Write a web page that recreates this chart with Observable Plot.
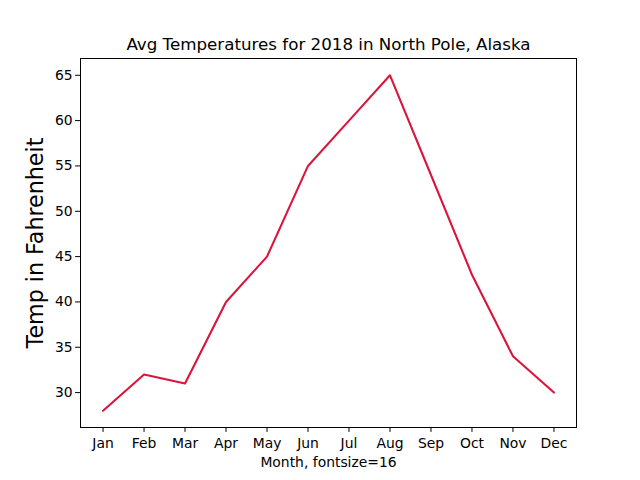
<!DOCTYPE html>
<html>
<head>
<meta charset="utf-8">
<script src="https://cdn.jsdelivr.net/npm/d3@7"></script>
<script src="https://cdn.jsdelivr.net/npm/@observablehq/plot@0.6"></script>
<style>
  html, body { margin: 0; padding: 0; background: #fff; }
  svg { display: block; }
</style>
</head>
<body>
<div id="chart"></div>
<script>
const months = ["Jan","Feb","Mar","Apr","May","Jun","Jul","Aug","Sep","Oct","Nov","Dec"];
const temps = [28, 32, 31, 40, 45, 55, 60, 65, 54, 43, 34, 30];
const yTicks = [30, 35, 40, 45, 50, 55, 60, 65];
const titleText = "Avg Temperatures for 2018 in North Pole, Alaska";
const xLabel = "Month, fontsize=16";
const yLabel = "Temp in Fahrenheit";

const data = months.map((m, i) => ({idx: i, month: m, temp: temps[i]}));

const chart = Plot.plot({
  width: 640,
  height: 480,
  marginLeft: 80,
  marginRight: 64,
  marginTop: 58,
  marginBottom: 53,
  style: {fontFamily: "DejaVu Sans", fontSize: "13.9px", color: "black", background: "white", overflow: "visible"},
  x: {type: "linear", domain: [-0.55, months.length - 1 + 0.55], nice: false},
  y: {domain: [26.15, 66.85], nice: false},
  marks: [
    Plot.frame({stroke: "black", strokeWidth: 1}),
    Plot.axisX({ticks: d3.range(months.length), tickFormat: i => months[i], tickSize: 4.9, tickPadding: 5.5, label: null, fontSize: 13.9}),
    Plot.axisY({ticks: yTicks, tickSize: 4.9, tickPadding: 3, label: null, fontSize: 13.9}),
    Plot.line(data, {x: "idx", y: "temp", stroke: "#DC143C", strokeWidth: 2.08}),
    Plot.text([titleText], {text: d => d, frameAnchor: "top", dy: -20, fontSize: 16.7, fill: "black"}),
    Plot.text([xLabel], {text: d => d, frameAnchor: "bottom", dy: 39, fontSize: 13.9, fill: "black"}),
    Plot.text([yLabel], {text: d => d, frameAnchor: "left", textAnchor: "middle", dx: -45, rotate: -90, fontSize: 22.2, fill: "black"})
  ]
});
document.getElementById("chart").appendChild(chart);
</script>
</body>
</html>
